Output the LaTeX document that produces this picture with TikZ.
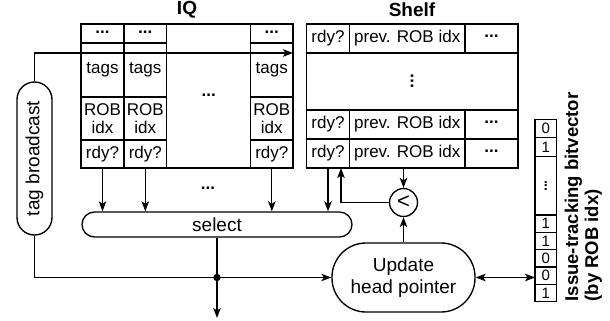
\documentclass[tikz,border=0pt]{standalone}
\usepackage{fontspec}
\setmainfont{Liberation Sans}
\usetikzlibrary{arrows.meta,calc}
\begin{document}
\begin{tikzpicture}[x=1pt,y=-1pt,line width=1.35pt,
  arr/.style={-{Stealth[length=10pt,width=7.5pt,inset=2.5pt]}},
  darr/.style={{Stealth[length=10pt,width=7.5pt,inset=2.5pt]}-{Stealth[length=10pt,width=7.5pt,inset=2.5pt]}},
  cell/.style={font=\fontsize{17}{18}\selectfont,inner sep=0pt,align=center},
  big/.style={font=\fontsize{19}{22}\selectfont,inner sep=0pt,align=center},
  ttl/.style={font=\fontsize{19}{22}\selectfont\bfseries,inner sep=0pt},
  dig/.style={font=\fontsize{15}{16}\selectfont,inner sep=0pt},
  dots/.style={font=\fontsize{17}{18}\selectfont\bfseries,inner sep=0pt}]
\useasboundingbox (0,0) rectangle (610,321);

% titles
\node[ttl] (iqt) at (187,10) {IQ};
\node[ttl] (sht) at (412,10) {Shelf};

% IQ table
\draw (81,24) rectangle (293,168);
\draw (124,24) -- (124,168) (166.7,24) -- (166.7,168) (250.7,24) -- (250.7,168);
\draw (81,43) -- (166.7,43) (250.7,43) -- (293,43);
\draw (81,97) -- (166.7,97) (250.7,97) -- (293,97);
\draw (81,140) -- (166.7,140) (250.7,140) -- (293,140);
\foreach \c/\x in {1/102.5,2/145.3,4/271.8}{
  \node[dots] (iqd\c) at (\x,32) {...};
  \node[cell] (iqt\c) at (\x,70) {tags};
  \node[cell] (iqr\c) at (\x,119) {ROB\\idx};
  \node[cell] (iqy\c) at (\x,154) {rdy?};
  \coordinate (iqb\c) at (\x,168);
}
\node[dots] (iqmid) at (208.7,95) {...};

% Shelf table
\draw (306.7,24) rectangle (518,168);
\draw (306.7,53) -- (518,53) (306.7,110) -- (518,110) (306.7,139) -- (518,139);
\draw (349.3,24) -- (349.3,53) (465,24) -- (465,53) (349.3,110) -- (349.3,168) (465,110) -- (465,168);
\foreach \r/\y in {1/38.5,3/124.5,4/153.5}{
  \node[cell] (shy\r) at (328,\y) {rdy?};
  \node[cell] (shp\r) at (407.2,\y) {prev. ROB idx};
  \node[dots] (shd\r) at (491.5,\y-2) {...};
}
\node[dots,rotate=90] (shmid) at (412,81) {...};

% tag broadcast
\node[draw,rounded corners=17.5pt,minimum width=35pt,minimum height=153pt,inner sep=0pt] (tb) at (34.5,158.5) {};
\node[big,rotate=90] (tbt) at (tb.center) {tag broadcast};

% select
\node[draw,rounded corners=12.5pt,minimum width=270pt,minimum height=25pt,big] (sel) at (217,224.5) {select};

% update head pointer
\node[draw,rounded corners=34pt,minimum width=143pt,minimum height=69pt,big] (upd) at (403.5,277.5) {Update\\head pointer};

% compare
\node[draw,circle,minimum size=28pt,inner sep=0pt,font=\fontsize{22}{24}\selectfont] (lt) at (403.5,202.5) {<};

% bitvector
\draw (535,119.3) rectangle (556.7,301.5);
\foreach \y in {137.5,156.5,215,232.3,249.6,266.9,284.2}{\draw (535,\y) -- (556.7,\y);}
\node[dig] (b1) at (545.8,128.4) {0};
\node[dig] (b2) at (545.8,147) {1};
\node[dots,rotate=90,font=\fontsize{14}{15}\selectfont\bfseries] (b3) at (545.8,186) {...};
\node[dig] (b4) at (545.8,223.6) {1};
\node[dig] (b5) at (545.8,241) {1};
\node[dig] (b6) at (545.8,258.3) {0};
\node[dig] (b7) at (545.8,275.6) {0};
\node[dig] (b8) at (545.8,292.9) {1};
\coordinate (bvin) at (535,277.5);
\node[rotate=90,anchor=north west,align=left,inner sep=0pt,font=\fontsize{18.5}{20}\selectfont\bfseries] (lbl) at (564,302) {Issue-tracking bitvector\\(by ROB idx)};

% connectors
\coordinate (iqin) at (293,53);
\draw[arr] (tb.north) |- (iqin);
\coordinate (jn) at (217,277.5);
\coordinate (out) at (217,318);
\draw[arr] (tb.south) |- (upd.west);
\draw[arr] (sel.south) -- (out);
\fill (jn) circle (3.7pt);
\foreach \c in {1,2,4}{\draw[arr] (iqb\c) -- (iqb\c |- sel.north);}
\node[dots] (mdots) at (208,188) {...};
\coordinate (shb1) at (328,168);
\coordinate (shb2) at (341,168);
\coordinate (shb3) at (403.5,168);
\draw[arr] (shb1) -- (shb1 |- sel.north);
\draw[arr] (lt.west) -| (shb2);
\draw[arr] (shb3) -- (lt.north);
\draw[arr] (upd.north) -- (lt.south);
\draw[darr] (upd.east) -- (bvin);
\end{tikzpicture}
\end{document}
